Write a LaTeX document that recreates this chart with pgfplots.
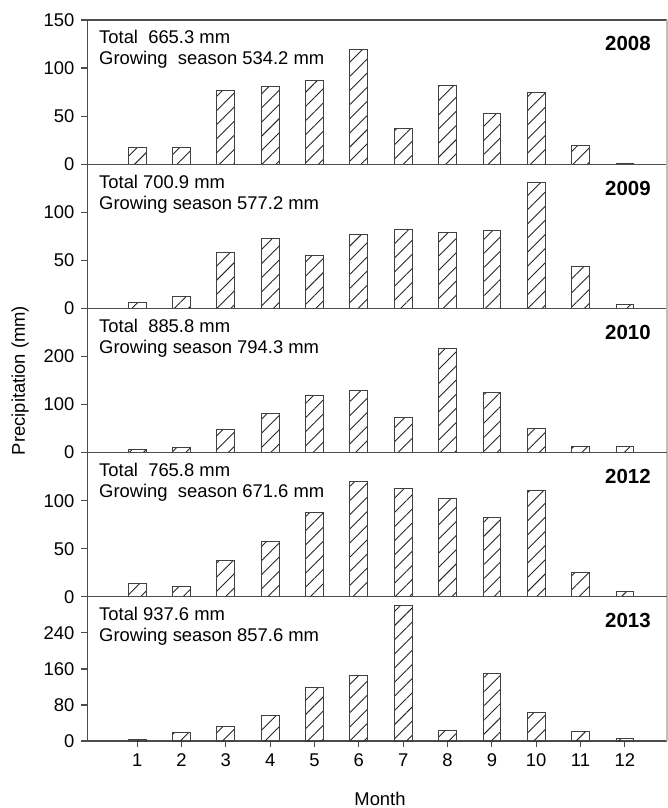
\documentclass[border=0pt]{standalone}
\usepackage{fontspec}
\setmainfont{Liberation Sans}
\usepackage{pgfplots}
\pgfplotsset{compat=1.18}
\usetikzlibrary{patterns.meta}

\newcommand{\txtfont}{\fontsize{9.2}{11}\selectfont}

\pgfplotsset{
  panel/.style={
    width=289.75pt, height=72.1pt, scale only axis,
    xmin=-0.12, xmax=12.95, ymin=0,
    axis x line*=box, axis y line*=left,
    axis line style={draw=black!70, line width=0.6pt},
    tick align=outside, major tick length=3pt,
    ytick pos=left,
    xtick=\empty,
    tick style={draw=black!70, line width=0.6pt},
    ticklabel style={font=\txtfont, text=black},
    /pgf/number format/assume math mode=true,
    ybar, bar width=0.4,
    clip=false,
  },
  hbar/.style={draw=black!75, line width=0.5pt,
      pattern={Lines[angle=45,distance=5pt,line width=0.45pt]}, pattern color=black!85},
}

\newcommand{\panelinfo}[3]{%
  \node[anchor=base west, inner sep=0pt, font=\txtfont, xshift=5.65pt, yshift=-12pt] at (rel axis cs:0,1) {#1};
  \node[anchor=base west, inner sep=0pt, font=\txtfont, xshift=5.65pt, yshift=-22.5pt] at (rel axis cs:0,1) {#2};
  \node[anchor=base east, inner sep=0pt, font=\fontsize{10.2}{12}\selectfont\bfseries, xshift=-8pt, yshift=-15.5pt] at (rel axis cs:1,1) {#3};
  \draw[black!25, line width=0.6pt] (rel axis cs:1,0) -- (rel axis cs:1,1);
}

\pgfplotstableread{
m p
1 17.0
2 17.7
3 77.1
4 80.9
5 87.2
6 119.8
7 37.2
8 81.6
9 52.8
10 75.0
11 19.1
12 0.7
}\dataA
\pgfplotstableread{
m p
1 5.9
2 12.5
3 58.3
4 72.2
5 55.2
6 76.4
7 82.3
8 79.2
9 81.3
10 131.3
11 43.4
12 4.2
}\dataB
\pgfplotstableread{
m p
1 5.6
2 11.1
3 48.8
4 80.8
5 119.2
6 128.9
7 73.9
8 216.0
9 124.7
10 50.2
11 13.2
12 12.5
}\dataC
\pgfplotstableread{
m p
1 14.2
2 11.1
3 38.2
4 58.0
5 87.2
6 120.1
7 112.5
8 102.4
9 83.0
10 110.4
11 25.0
12 5.9
}\dataD
\pgfplotstableread{
m p
1 3.0
2 17.8
3 31.9
4 56.3
5 118.5
6 144.4
7 301.5
8 23.0
9 148.9
10 63.7
11 21.5
12 5.2
}\dataE

\begin{document}
\begin{tikzpicture}
\useasboundingbox (-43.75pt,10pt) rectangle (290.25pt,-394pt);

\begin{axis}[panel, at={(0,0)}, anchor=north west, ymax=150, ytick={0,50,100,150}]
\addplot[hbar] table[x=m,y=p] {\dataA};
\panelinfo{Total\ \ 665.3 mm}{Growing\ \ season 534.2 mm}{2008}
\end{axis}

\begin{axis}[panel, at={(0,-72.1pt)}, anchor=north west, ymax=150, ytick={0,50,100}]
\addplot[hbar] table[x=m,y=p] {\dataB};
\panelinfo{Total 700.9 mm}{Growing season 577.2 mm}{2009}
\end{axis}

\begin{axis}[panel, at={(0,-144.2pt)}, anchor=north west, ymax=300, ytick={0,100,200}]
\addplot[hbar] table[x=m,y=p] {\dataC};
\panelinfo{Total\ \ 885.8 mm}{Growing season 794.3 mm}{2010}
\end{axis}

\begin{axis}[panel, at={(0,-216.3pt)}, anchor=north west, ymax=150, ytick={0,50,100}]
\addplot[hbar] table[x=m,y=p] {\dataD};
\panelinfo{Total\ \ 765.8 mm}{Growing\ \ season 671.6 mm}{2012}
\end{axis}

\begin{axis}[panel, at={(0,-288.4pt)}, anchor=north west, ymax=320, ytick={0,80,160,240},
  xtick={1,...,12}, xtick pos=bottom]
\addplot[hbar] table[x=m,y=p] {\dataE};
\panelinfo{Total 937.6 mm}{Growing season 857.6 mm}{2013}
\end{axis}

\node[rotate=90, font=\txtfont] at (-33.75pt,-180.25pt) {Precipitation (mm)};
\node[anchor=base, font=\txtfont] at (146.25pt,-392.5pt) {Month};
\end{tikzpicture}
\end{document}
